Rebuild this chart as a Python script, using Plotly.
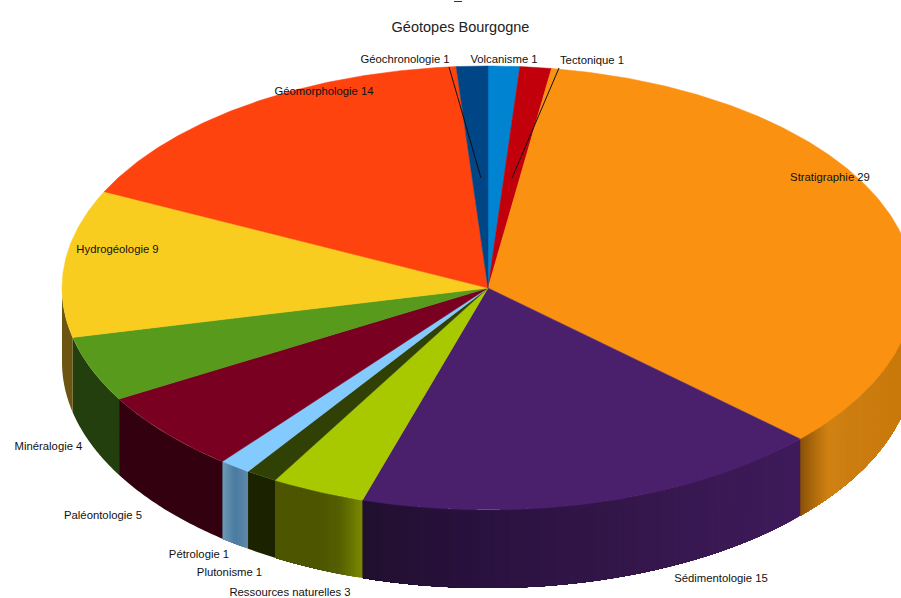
import numpy as np
import plotly.graph_objects as go

categories = ["Volcanisme", "Tectonique", "Stratigraphie", "Sédimentologie", "Ressources naturelles",
              "Plutonisme", "Pétrologie", "Paléontologie", "Minéralogie", "Hydrogéologie",
              "Géomorphologie", "Géochronologie"]
values = [1, 1, 29, 15, 3, 1, 1, 5, 4, 9, 14, 1]
top_colors = ["#0084d1", "#c2000b", "#fa9110", "#4a206c", "#a8c900", "#314004",
              "#83caff", "#7a0021", "#579a1c", "#f9cd1f", "#fe430f", "#004586"]
# side-wall shading, listed in increasing angle (right to left on the front)
wall_colors = [["#62000a"], ["#62000a"],
               ["#bd7008", "#c07208", "#c27408", "#c47608", "#c67809", "#c8790a", "#c97a0b", "#ca7b0c",
                "#cb7c0e", "#cb7c0e", "#cc7d10", "#cc7d10", "#cf8012", "#d08212", "#b06c0c", "#8a5208"],
               ["#3f1b5c", "#3a1953", "#321648", "#2a1240", "#22102f"],
               ["#7a8a00", "#556000", "#4d5500", "#4d5500", "#4d5500"],
               ["#1a2200"],
               ["#5f8aaa", "#4a7ba0", "#6f9bb8"],
               ["#33000f"], ["#233f0d"], ["#6b5510"],
               ["#6b5510"], ["#6b5510"]]

labels = [f"{c} {v}" for c, v in zip(categories, values)]
label_x = [504, 592, 830, 721, 290, 229.5, 199, 103, 48.5, 117.5, 324, 405]
label_y = [60, 61, 178, 579, 593, 573, 555, 516, 447, 250, 92, 60]

CX, CY, RX, RY = 488, 288, 426, 222
WALL_CY, WALL_RY = 362, 226


def rim(theta, cy=CY, ry=RY):
    return CX + RX * np.sin(theta), cy - ry * np.cos(theta)


def mix(stops, t):
    rgb = np.array([[int(s[i:i + 2], 16) for i in (1, 3, 5)] for s in stops], float)
    pos = np.linspace(0, 1, len(stops))
    return "rgb(%d,%d,%d)" % tuple(np.interp(t, pos, rgb[:, k]) for k in range(3))


fig = go.Figure()
edges = np.radians(np.concatenate([[0], np.cumsum(values)]) * 360 / sum(values))

# side walls (only the front half of the rim is visible); each strip runs on to the
# end of its slice and the next strip paints over it, so no seams show
for i, name in enumerate(labels):
    a, b = max(edges[i], np.pi / 2), min(edges[i + 1], 3 * np.pi / 2)
    if b <= a:
        continue
    stops = wall_colors[i]
    n = 1 if len(stops) == 1 else max(2, int(np.degrees(b - a) * 2.5))
    cuts = np.linspace(a, b, n + 1)
    for k in range(n):
        th = np.linspace(cuts[k], b, max(5, int(np.degrees(b - cuts[k]) * 2)))
        x1, y1 = rim(th)
        x2, y2 = rim(th[::-1], WALL_CY, WALL_RY)
        col = mix(stops, (k + 0.5) / n)
        fig.add_trace(go.Scatter(x=np.r_[x1, x2], y=np.r_[y1, y2], mode="none", fill="toself",
                                 fillcolor=col, hoverinfo="text", text=name, showlegend=False))

# top faces
for i, name in enumerate(labels):
    th = np.linspace(edges[i], edges[i + 1], max(4, int(np.degrees(edges[i + 1] - edges[i]) * 2)))
    x, y = rim(th)
    fig.add_trace(go.Scatter(x=np.r_[CX, x, CX], y=np.r_[CY, y, CY], mode="lines", fill="toself",
                             fillcolor=top_colors[i], line=dict(color=top_colors[i], width=0.5),
                             hoverinfo="text", text=name, showlegend=False))

# leader lines
leaders = [((449, 67), (481, 178)), ((559, 68), (512, 178))]
for p, q in leaders:
    fig.add_trace(go.Scatter(x=[p[0], q[0]], y=[p[1], q[1]], mode="lines",
                             line=dict(color="#111111", width=1), hoverinfo="skip", showlegend=False))

# clipped mark at the very top of the picture
fig.add_trace(go.Scatter(x=[454, 462], y=[1.5, 1.5], mode="lines",
                         line=dict(color="#333333", width=1), hoverinfo="skip", showlegend=False))

fig.add_trace(go.Scatter(x=label_x, y=label_y, mode="text", text=labels, textposition="middle center",
                         textfont=dict(family="Liberation Sans", size=11.3, color="#111111"),
                         hoverinfo="skip", showlegend=False, cliponaxis=False))

fig.update_layout(
    width=901, height=598, margin=dict(l=0, r=0, t=0, b=0),
    paper_bgcolor="white", plot_bgcolor="white", showlegend=False,
    title=dict(text="Géotopes Bourgogne", x=460.5 / 901, y=1 - 27 / 598, xanchor="center", yanchor="middle",
               font=dict(family="Liberation Sans", size=14.5, color="#222222")),
    xaxis=dict(range=[0, 901], visible=False, fixedrange=True),
    yaxis=dict(range=[598, 0], visible=False, fixedrange=True),
)
fig.write_html("out.html", config=dict(displayModeBar=False),
               post_script="document.body.style.margin='0';document.body.style.overflow='hidden';")
